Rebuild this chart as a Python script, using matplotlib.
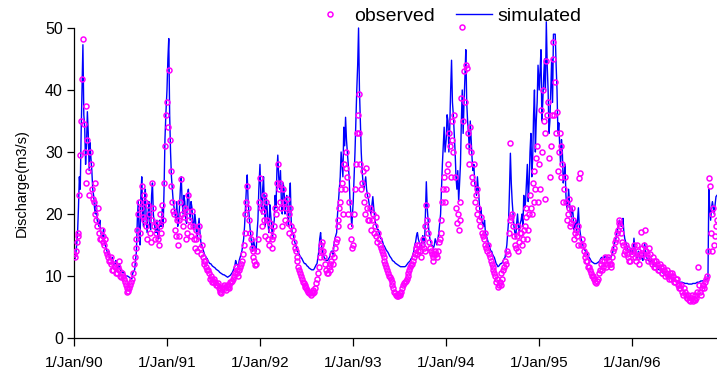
import numpy as np
import matplotlib
matplotlib.use('Agg')
import matplotlib.pyplot as plt
from matplotlib.lines import Line2D

plt.rcParams['font.family'] = ['Liberation Sans', 'DejaVu Sans']

# ---- data (m3/s) ----
# *_YYYY : value at the start of each week (1 Jan + 7*i days)
# *_mid_YYYY : value half a week later
obs_1990 = [13.5, 14, 16.5, 23, 35, 48.3, 30, 37.5, 27, 30, 24, 22, 20, 18, 17, 16,
            16.5, 15, 14, 13, 12.5, 12, 11, 11.5, 10.5, 12.5, 10, 10.5, 9.5, 8.5, 7.5, 8,
            9, 10.5, 13, 16, 20, 17, 24.5, 19, 22, 16, 20, 15.5, 25, 18, 17, 16,
            20, 17, 19, 31]
obs_mid_1990 = [13, 15.5, 17, 29.5, 41.7, 34.5, 25, 32, 23, 28, 22.5, 25, 19, 21, 16, 17.5,
                15.5, 16, 13.5, 12.5, 13, 11, 12, 10.5, 11.5, 11, 9.8, 10, 9, 8, 7.6, 8.5,
                9.5, 12, 14.5, 17.5, 22, 21, 19.5, 23, 18, 21.5, 17, 19, 21, 16, 18.5, 15,
                18, 21.5, 25, 36]
sim_1990 = [13, 13.5, 17, 26, 33, 47.3, 34, 31, 33, 31.5, 27, 23, 20, 19, 18, 17,
            16, 15.5, 14.5, 13.5, 13, 12.5, 12, 12, 11.5, 11.5, 11, 10.5, 10.5, 10, 10, 9.8,
            9.5, 10.5, 11, 14, 22, 15, 26, 18, 24, 17, 22, 17.5, 25, 18.5, 17, 16.5,
            19, 18, 18, 32]
sim_mid_1990 = [12.8, 15, 21, 24, 40, 36, 28, 36.5, 27, 29, 24, 21, 22, 18.5, 19, 16.5,
                17.5, 15, 14, 14, 12.8, 13, 11.8, 12.5, 11.3, 12, 10.8, 10.8, 10.2, 10, 9.9, 9.7,
                9.6, 10.8, 12.5, 19, 17, 23, 20, 22, 19, 20, 18, 23, 20, 17.5, 19, 16,
                18, 21, 24, 36]

obs_1991 = [38, 43.3, 27, 22, 20, 16.5, 15, 19, 25.7, 18, 21, 17, 23, 18, 20.5, 16,
            17.5, 14, 18, 13.5, 13, 12, 11.5, 11, 9.5, 9.5, 9, 9, 8.5, 8, 7.5, 8,
            8.5, 7.8, 8.2, 8.5, 9, 9.5, 10.5, 11, 10, 11.5, 12.5, 15, 20, 24.5, 19, 16,
            14, 12.5, 12, 16]
obs_mid_1991 = [34, 32, 24.5, 20.5, 17.5, 19, 16.5, 22, 20, 19.5, 16, 20.5, 19, 16.5, 18, 14.5,
                16, 16.5, 14.5, 15, 12.5, 12.5, 11, 10.5, 10, 9, 9.5, 8.5, 8.8, 7.7, 7.3, 8.3,
                8, 8.6, 8, 9, 9.2, 10, 11.5, 10.5, 11, 12, 13.5, 17, 22, 21, 17, 14.5,
                13, 11.8, 14, 22]
sim_1991 = [40, 48.3, 30, 24, 21, 19, 18, 21, 26, 20, 22, 18.5, 24, 19, 21, 17.5,
            19, 16, 19.3, 15.5, 14.5, 13.5, 13, 12.5, 12, 11.8, 11.5, 11.3, 11, 10.8, 10.5, 10.3,
            10.2, 10, 9.8, 10, 10.3, 10.8, 11.5, 12, 11.5, 13, 14, 16, 21, 26.3, 20, 16.5,
            14, 15, 14, 19]
sim_mid_1991 = [45, 36, 26, 22, 20, 22, 19, 24, 22, 23, 19, 23, 21, 22, 18.5, 20,
                17, 18, 17, 15, 14, 13.2, 12.8, 12.2, 12, 11.6, 11.4, 11.1, 10.9, 10.6, 10.4, 10.2,
                10.1, 9.9, 9.9, 10.1, 10.5, 11.2, 12.5, 11.8, 12.5, 13.5, 15, 18, 24, 22, 18, 15,
                16, 14.5, 17, 24]

obs_1992 = [25.8, 18, 23, 16.5, 19, 15, 17.5, 14.5, 18, 20, 28, 22, 21, 24, 19, 22.5,
            17, 21, 16.5, 15.5, 14, 12.5, 11, 10, 9, 8.5, 8, 7.5, 7.3, 7.5, 7.2, 8,
            9.5, 11.5, 14, 15.5, 13, 11, 10.5, 11, 12.5, 12, 14.5, 16, 19, 22, 25, 28,
            30, 26, 22, 16]
obs_mid_1992 = [21, 20.5, 19, 22, 16, 18.5, 16, 16.5, 21, 25, 24, 25, 18, 22, 21, 18.5,
                20, 18, 17.5, 14.5, 13, 11.5, 10.5, 9.5, 8.8, 8.2, 7.8, 7.2, 7, 7.8, 7.5, 8.8,
                10.5, 13, 15, 14, 12, 10.5, 11.5, 12, 13.5, 13, 15.5, 18, 21, 24, 20, 24,
                27.5, 20, 18, 14.5]
sim_1992 = [28, 20, 26, 18, 21, 17, 20, 16, 19, 21, 29.5, 24, 22, 25, 20, 23,
            18, 25, 17, 16, 15, 14, 13.5, 13, 12.5, 12, 11.8, 11.5, 11.2, 11, 11, 11.5,
            12, 14, 17, 14, 13, 12.5, 12.5, 13, 14, 13.5, 16, 17, 22, 26, 28, 34,
            35.6, 30, 26, 20]
sim_mid_1992 = [23, 24, 21, 23, 18.5, 21.5, 18, 18, 23, 27, 26, 27, 20, 24, 22, 20,
                22.5, 19, 17, 15.5, 14.5, 13.8, 13.2, 12.8, 12.2, 12, 11.6, 11.3, 11.1, 11, 11.2, 11.8,
                13, 16, 15, 13.5, 12.8, 12.5, 12.8, 13.5, 14, 15, 16.5, 20, 24, 30, 26, 31,
                32, 28, 22, 18]

obs_1993 = [15, 24, 33, 39.3, 28, 25, 22, 27.5, 21, 19, 17.5, 20, 18, 16.5, 17, 15,
            14, 13, 12, 11, 10, 9.5, 8.5, 7.5, 7, 6.8, 7, 7.5, 8.5, 9, 9.5, 10.5,
            11.5, 12, 13, 14.5, 13.5, 15, 13, 16, 14, 21.5, 17, 14.5, 13.5, 12.5, 14, 13,
            15.5, 17, 22, 26]
obs_mid_1993 = [20, 28, 36, 33, 24, 27, 20, 23, 19, 21, 19, 17, 19.5, 15.5, 16, 14.5,
                13.5, 12.5, 11.5, 10.5, 9.8, 9, 8, 7.2, 6.8, 6.9, 7.2, 8, 8.8, 9.2, 10, 11,
                11.8, 12.5, 13.5, 15, 14, 14, 15, 14.5, 18, 19, 15.5, 14, 13, 13.5, 13.5, 14,
                16, 19, 24, 22]
sim_1993 = [22, 30, 40, 50, 35, 27, 24, 26, 23, 21.5, 20, 22.8, 19.5, 18, 17.5, 16.5,
            16, 15, 14.5, 14, 13.5, 13, 12.5, 12.3, 12, 11.8, 11.6, 11.5, 11.5, 11.5, 11.8, 12.2,
            12.5, 13, 14, 15.5, 17, 15.5, 14.5, 16.5, 15, 25.2, 19, 16, 15, 14.5, 16, 15,
            17, 20, 28, 34]
sim_mid_1993 = [26, 35, 44, 40, 30, 25, 25, 24, 22.5, 20.5, 21.5, 21, 18.5, 17.5, 17, 16,
                15.5, 14.8, 14.2, 13.8, 13.2, 12.8, 12.4, 12.1, 11.9, 11.7, 11.5, 11.5, 11.5, 11.6, 12, 12.3,
                12.8, 13.5, 15, 16.5, 16, 15, 15.5, 16, 20, 21, 17, 15.5, 14.8, 15, 15.5, 16,
                18.5, 24, 31, 30]

obs_1994 = [24, 28, 31, 35, 30, 26, 18.5, 17.5, 22, 50.2, 43, 44, 33, 28, 30, 25,
            22, 20, 21, 18, 17, 16, 15, 14, 13.5, 12.5, 11.5, 10.5, 9, 8.2, 9, 10.5,
            11, 12.5, 14, 17, 31.5, 20, 16.5, 14.5, 18, 15.5, 17, 16, 18, 21, 17.5, 23,
            20, 27, 24, 31]
obs_mid_1994 = [27, 33, 26, 32, 36, 21, 20, 19, 38.7, 35, 38, 43.5, 31, 34, 26, 28,
                23, 24, 19, 19.5, 16.5, 17, 14.5, 15, 13, 12, 11, 10, 9.5, 8.5, 8.5, 9.5,
                11.5, 12, 13.5, 19, 19.5, 18, 15, 16.5, 14, 17, 15, 17.5, 19.5, 16, 20, 21,
                25, 22, 29, 22]
sim_1994 = [32, 35, 34, 44.8, 36, 30, 24, 22, 28, 40, 38, 46.5, 35, 30, 32, 27,
            25, 23, 24, 20, 19, 18, 17, 16, 15, 14, 13.5, 13, 12, 11.5, 11.8, 12,
            12.5, 13, 15, 19, 29.8, 22, 18, 16, 20, 17, 19, 18, 21, 25, 22, 30,
            26, 36, 30, 38]
sim_mid_1994 = [36, 30, 40, 38, 33, 26, 27, 25, 35, 33, 42, 38, 33, 35, 29, 28,
                24, 26, 22, 21, 18.5, 19, 16.5, 15.5, 14.5, 14, 13.2, 12.5, 11.8, 11.6, 12, 12.2,
                12.8, 14, 17, 24, 25, 20, 17, 18.5, 18, 18.5, 20, 23, 22, 28, 25, 33,
                29, 40, 35, 44]

obs_1995 = [28, 36.8, 40, 33, 44.6, 38, 26, 36, 47.8, 41.3, 36.5, 30, 26, 28, 24, 22,
            20, 21, 18.5, 19, 17, 16.5, 18, 26.6, 16, 14, 13.5, 12.5, 11.5, 10.5, 10, 9.5,
            8.9, 9.5, 11, 12.5, 11.5, 13, 12, 12.5, 11.5, 13, 14.5, 16, 17.5, 19, 17, 15,
            14, 14.5, 13, 12.5]
obs_mid_1995 = [24, 30, 35, 22.5, 36, 29, 31, 45, 36, 33, 27, 33, 31, 22, 26, 19,
                22.5, 18, 21, 16, 17.5, 15, 25.8, 15, 15, 13, 12.5, 11.5, 11, 10, 9.5, 9,
                9.2, 10.5, 12, 11, 12.5, 11.5, 13, 12, 12, 14, 15.5, 17, 18.5, 18, 15.5, 13.5,
                15, 13.5, 12.5, 14]
sim_1995 = [40, 46.5, 38, 45, 51, 40, 35, 45, 49, 49, 40, 34.7, 28, 30, 26, 23,
            21, 22, 19.5, 20, 18, 17, 21, 17, 15.5, 14.5, 14, 13.5, 13, 12.5, 12.2, 12,
            12, 12.2, 12.5, 13, 12.8, 13.2, 12.8, 13, 12.8, 13.5, 15, 16, 17.5, 19, 18, 19.3,
            16, 15, 14, 13.5]
sim_mid_1995 = [43, 35, 42, 40, 44, 33, 40, 38, 49, 44, 33, 31, 32, 25, 28, 21,
                24, 20, 21, 17.5, 19, 19, 18, 16, 15, 14.2, 13.8, 13.2, 12.8, 12.3, 12.1, 12,
                12.1, 12.3, 12.8, 12.9, 13, 13, 12.9, 12.9, 13.2, 14.2, 15.5, 16.8, 18.3, 18.5, 18.5, 17,
                15.5, 14.5, 13.8, 14.5]

obs_1996 = [13.5, 15, 12.5, 14, 12, 17.1, 13.5, 17.5, 14, 12.5, 13.5, 12, 12.5, 11.5, 12, 11,
            11.5, 10.5, 11, 10.5, 10, 10.5, 9.5, 10, 9, 9.5, 8.5, 8, 7.5, 8, 7, 6.5,
            6.2, 6.5, 6, 7, 6.5, 11.5, 7.5, 8, 8.5, 9, 10, 25.8, 17, 20, 15, 18]
obs_mid_1996 = [14, 13, 15, 13, 13.5, 14.5, 15, 13, 13.5, 14.5, 12.5, 13, 11.5, 12.5, 11, 12,
                10.5, 11.5, 10, 11, 9.5, 10, 10.5, 9, 9.5, 8.5, 8, 8.5, 7, 7.5, 6.5, 7,
                6, 7, 6.3, 6.2, 7.5, 8.5, 7, 8.5, 8, 9.5, 14, 24.5, 14, 21, 16.5, 19]
sim_1996 = [13.5, 16.1, 13.5, 13, 13.5, 13, 12.5, 15.3, 13, 12.5, 12, 12.5, 11.8, 11.5, 11.5, 11,
            11, 10.5, 10.5, 10.2, 10, 9.8, 9.6, 9.5, 9.3, 9.2, 9.1, 9, 9, 8.9, 8.8, 8.8,
            8.7, 8.7, 8.8, 8.8, 8.9, 9, 9.1, 9.2, 9.3, 9.4, 9.5, 24, 19, 22, 20, 22.8]
sim_mid_1996 = [14, 14.5, 13, 14, 12.8, 12.8, 13.5, 14, 12.8, 12.8, 12.3, 12, 11.6, 11.8, 11.2, 11,
                10.8, 10.5, 10.3, 10.1, 9.9, 9.7, 9.5, 9.4, 9.2, 9.1, 9, 9, 8.9, 8.8, 8.8, 8.7,
                8.7, 8.7, 8.8, 8.8, 9, 9, 9.2, 9.2, 9.3, 9.5, 9.6, 21, 21, 21, 21.5, 23]

years = [1990, 1991, 1992, 1993, 1994, 1995, 1996]
obs_week = [obs_1990, obs_1991, obs_1992, obs_1993, obs_1994, obs_1995, obs_1996]
obs_mid = [obs_mid_1990, obs_mid_1991, obs_mid_1992, obs_mid_1993,
           obs_mid_1994, obs_mid_1995, obs_mid_1996]
sim_week = [sim_1990, sim_1991, sim_1992, sim_1993, sim_1994, sim_1995, sim_1996]
sim_mid = [sim_mid_1990, sim_mid_1991, sim_mid_1992, sim_mid_1993,
           sim_mid_1994, sim_mid_1995, sim_mid_1996]
tick_labels = ['1/Jan/90', '1/Jan/91', '1/Jan/92', '1/Jan/93',
               '1/Jan/94', '1/Jan/95', '1/Jan/96']

# interleave week-start and mid-week values into one time series
dates, obs, sim = [], [], []
for yr, ow, om, sw, sm in zip(years, obs_week, obs_mid, sim_week, sim_mid):
    d0 = np.datetime64(f'{yr}-01-01T00', 'h')
    for i in range(len(ow)):
        dates += [d0 + np.timedelta64(168 * i, 'h'), d0 + np.timedelta64(168 * i + 84, 'h')]
        obs += [ow[i], om[i]]
        sim += [sw[i], sm[i]]
dates = np.array(dates)
tick_dates = [np.datetime64(f'{yr}-01-01') for yr in years]

# ---- figure ----
W, H = 717, 374
fig = plt.figure(figsize=(W / 100, H / 100), dpi=100)
ytop = 51.5
ax = fig.add_axes([74 / W, 1 - 338 / H, 643 / W, (338 - (28 - 6.2 * (ytop - 50))) / H])

ax.plot(dates, sim, color='#0000FF', lw=1.0, zorder=2)
ax.plot(dates, obs, ls='none', marker='o', ms=3.6, mew=1.1,
        mec='#FF00FF', mfc='none', zorder=3)

ax.set_xlim(np.datetime64('1990-01-01'), np.datetime64('1996-11-29'))
ax.set_ylim(0, ytop)
ax.spines['top'].set_visible(False)
ax.spines['right'].set_visible(False)
ax.spines['left'].set_bounds(0, 50)
for sp in ('left', 'bottom'):
    ax.spines[sp].set_linewidth(0.9)

ax.set_yticks([0, 10, 20, 30, 40, 50])
ax.set_xticks(tick_dates)
ax.set_xticklabels(tick_labels)
ax.tick_params(axis='y', direction='out', length=5, width=0.9, labelsize=11.5, pad=3)
ax.tick_params(axis='x', direction='out', length=6, width=0.9, labelsize=11, pad=7)

ax.set_ylabel('Discharge(m3/s)', fontsize=10.5)
ax.yaxis.set_label_coords((29 - 74) / 643, 25 / ytop)

handles = [Line2D([], [], ls='none', marker='o', ms=3.6, mew=1.1, mec='#FF00FF', mfc='none'),
           Line2D([], [], color='#0000FF', lw=1.0)]
fig.legend(handles, ['observed', 'simulated'], loc='center',
           bbox_to_anchor=(447 / W, 1 - 16 / H), ncol=2, frameon=False,
           fontsize=14, handlelength=1.85, handletextpad=0.3,
           columnspacing=1.1, numpoints=1, borderpad=0)

fig.savefig('out.png', dpi=100)
